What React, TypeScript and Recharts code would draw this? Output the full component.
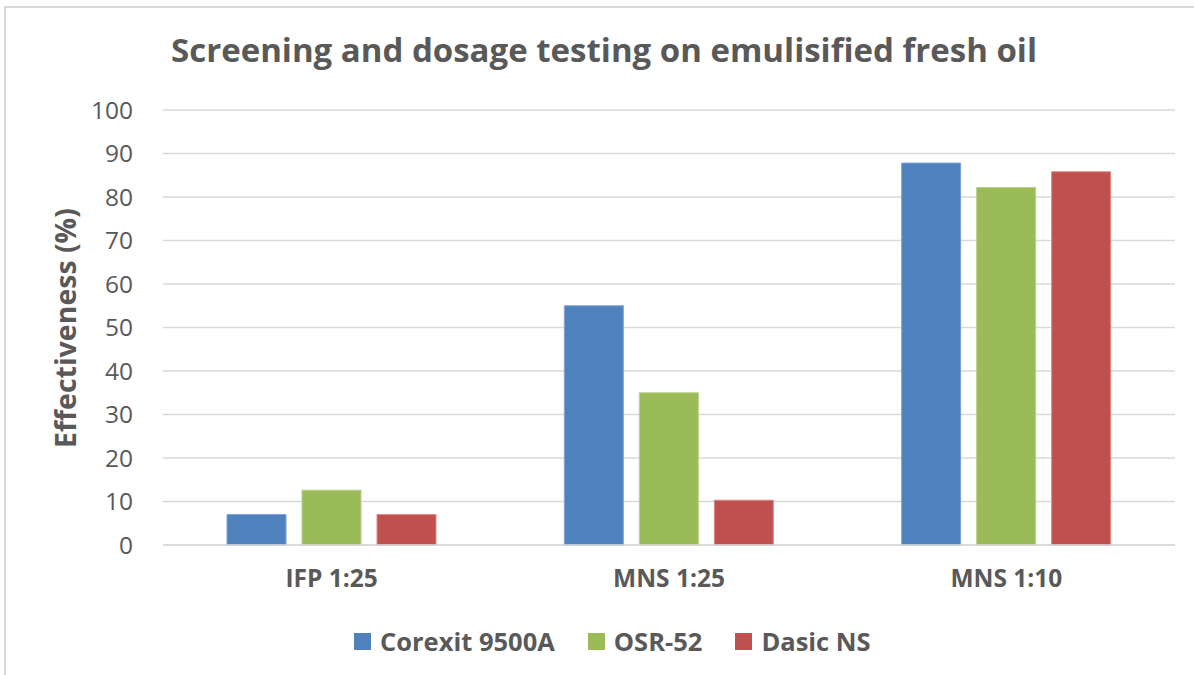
import React from 'react';
import { BarChart, Bar, XAxis, YAxis, CartesianGrid, Legend } from 'recharts';

const categories = ['IFP 1:25', 'MNS 1:25', 'MNS 1:10'];
const corexit = [7, 55, 87.8];
const osr52 = [12.6, 35, 82.2];
const dasic = [7, 10.3, 85.8];
const yTicks = [0, 10, 20, 30, 40, 50, 60, 70, 80, 90, 100];
const seriesKeys = ['corexit', 'osr52', 'dasic'];
const seriesNames = ['Corexit 9500A', 'OSR-52', 'Dasic NS'];
const seriesColors = ['#4F81BD', '#9BBB59', '#C0504D'];
const seriesStrokes = ['#7FA3D3', '#B9D08A', '#D98A88'];

const data = categories.map((c, i) => ({
  name: c,
  corexit: corexit[i],
  osr52: osr52[i],
  dasic: dasic[i],
}));

const FONT = '"Open Sans", sans-serif';
const TEXT = '#595959';

const renderLegend = () => (
  <div
    style={{
      display: 'flex',
      alignItems: 'center',
      paddingLeft: 354,
      height: 34,
      fontFamily: FONT,
      fontWeight: 700,
      fontSize: 25.5,
      lineHeight: '34px',
      color: TEXT,
    }}
  >
    {seriesNames.map((n, i) => (
      <div key={n} style={{ display: 'flex', alignItems: 'center', marginRight: 33 }}>
        <span style={{ display: 'inline-block', width: 17, height: 17, background: seriesColors[i], marginRight: 9 }} />
        <span>{n}</span>
      </div>
    ))}
  </div>
);

export default function App() {
  return (
    <div style={{ position: 'absolute', left: 0, top: 0, width: 1194, height: 675, background: '#fff', overflow: 'hidden' }}>
      <div style={{ position: 'absolute', left: 4, top: 6, width: 1300, height: 800, border: '2px solid #D9D9D9' }} />
      <div
        style={{
          position: 'absolute',
          left: 0,
          width: 1208,
          top: 33,
          textAlign: 'center',
          fontFamily: FONT,
          fontWeight: 700,
          fontSize: 33,
          lineHeight: '33px',
          color: TEXT,
          whiteSpace: 'nowrap',
        }}
      >
        Screening and dosage testing on emulisified fresh oil
      </div>
      <div
        style={{
          position: 'absolute',
          left: 65,
          top: 328,
          transform: 'translate(-50%, -50%) rotate(-90deg)',
          fontFamily: FONT,
          fontWeight: 700,
          fontSize: 28.5,
          color: TEXT,
          whiteSpace: 'nowrap',
        }}
      >
        Effectiveness (%)
      </div>
      <div style={{ position: 'absolute', left: 0, top: 0 }}>
        <BarChart
          width={1194}
          height={675}
          data={data}
          margin={{ top: 110, right: 19, left: 13, bottom: 66 }}
          barGap={16}
        >
          <CartesianGrid vertical={false} stroke="#D9D9D9" strokeWidth={1.5} />
          <XAxis
            dataKey="name"
            axisLine={{ stroke: '#D9D9D9', strokeWidth: 1.5 }}
            tickLine={false}
            tickSize={0}
            tickMargin={25}
            tick={{ fill: TEXT, fontFamily: FONT, fontWeight: 700, fontSize: 24.5 }}
          />
          <YAxis
            width={150}
            domain={[0, 100]}
            ticks={yTicks}
            axisLine={false}
            tickLine={false}
            tickSize={0}
            tickMargin={30}
            tick={{ fill: TEXT, fontFamily: FONT, fontSize: 24.5 }}
          />
          {seriesKeys.map((k, i) => (
            <Bar
              key={k}
              dataKey={k}
              name={seriesNames[i]}
              fill={seriesColors[i]}
              stroke={seriesStrokes[i]}
              strokeWidth={1}
              barSize={59}
              isAnimationActive={false}
            />
          ))}
          <Legend
            content={renderLegend}
            wrapperStyle={{ position: 'absolute', left: 0, top: 624, width: 1194 }}
          />
        </BarChart>
      </div>
    </div>
  );
}
